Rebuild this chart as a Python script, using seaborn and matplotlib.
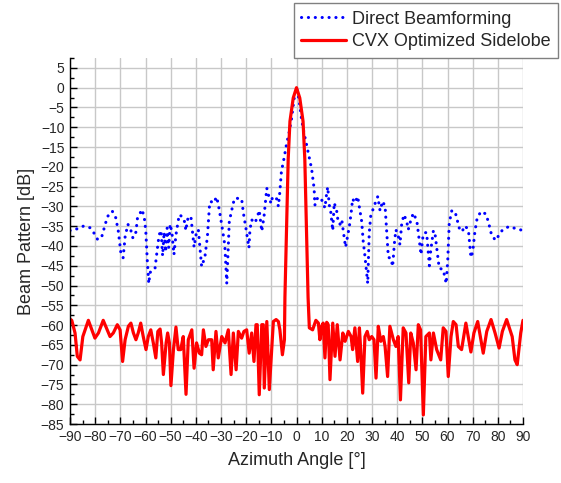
import matplotlib
matplotlib.use("Agg")
import matplotlib.pyplot as plt
import pandas as pd
import seaborn as sns
from matplotlib.ticker import MultipleLocator

# ---------------- data ----------------
blue_angle = [
    -90, -87.3, -84.7, -82, -80.3, -79, -77.4, -75.8, -75, -73.2,
    -71.8, -70.8, -69.8, -68.9, -68.1, -67, -65.8, -65, -63.8, -63.2,
    -61.4, -60.5, -59.9, -59.3, -58.7, -58.2, -57.5, -56.2, -55.5, -54.6,
    -53.8, -53.2, -52.6, -52.0, -51.4, -50.8, -50.2, -49.5, -48.7, -47.9,
    -46.6, -45.2, -44.3, -44.0, -43.0, -41.9, -40.7, -39.7, -39.0, -37.7,
    -36.4, -35.4, -34.6, -34.1, -33.1, -31.7, -30.7, -29.6, -28.5, -27.7,
    -26.7, -25.1, -24.4, -21.8, -21.1, -20.2, -18.9, -18.5, -17.8, -16.5,
    -15.6, -14.8, -13.8, -12.9, -11.8, -11.2, -10.1, -9.5, -7.9, -7.2,
    -6.6, -6.0, -5.0, -4.0, -3.0, -2.0, -1.0, 0, 1.0, 2.0,
    3.0, 4.0, 5.0, 6.0, 7.0, 7.3, 8.0, 9.6, 11.3, 12.0,
    12.4, 13.0, 13.6, 14.4, 15.0, 16.0, 16.6, 17.3, 18.0, 18.6,
    19.5, 21.0, 21.7, 22.3, 23.2, 24.3, 25.2, 25.9, 26.5, 27.2,
    28.3, 28.9, 29.5, 31.2, 32.3, 33.2, 34.2, 35.2, 35.8, 36.5,
    37.5, 38.2, 38.9, 39.5, 40.5, 41.1, 41.8, 42.7, 43.8, 44.4,
    45.1, 46.4, 47.8, 48.4, 49.5, 50.1, 50.7, 51.7, 52.8, 53.3,
    54.4, 55.0, 56.7, 58.3, 59.5, 60.1, 60.7, 61.7, 63.0, 64.3,
    65.0, 66.0, 66.9, 68.3, 69.3, 70.0, 70.9, 71.8, 73.3, 75.2,
    76.2, 77.5, 79.1, 80.5, 81.9, 84.4, 87.1, 90,
]
blue_db = [
    -36.1, -35.7, -35.0, -35.4, -36.9, -38.4, -37.7, -34.1, -32.5, -31.2,
    -32.9, -36.3, -41.7, -43.0, -37.7, -34.5, -36.1, -38.0, -36.5, -33.0,
    -30.8, -32.7, -36.1, -43.5, -49.5, -46.8, -46.0, -45.6, -41.8, -37.2,
    -36.1, -42.5, -36.5, -41.5, -35.5, -40.5, -34.5, -36.6, -42.2, -37.2,
    -32.1, -32.7, -34.2, -36.1, -32.5, -32.9, -40.3, -36.3, -35.9, -45.2,
    -42.8, -37.6, -30.0, -28.7, -29.2, -27.6, -30.8, -35.1, -39.7, -49.5,
    -33.8, -29.1, -27.9, -28.1, -31.7, -35.1, -40.5, -35.9, -33.4, -34.2,
    -32.7, -31.0, -36.3, -32.5, -25.4, -27.0, -29.3, -27.5, -28.1, -30.0,
    -26.2, -21.2, -18.0, -14.4, -11.5, -8.0, -3.0, 0, -3.0, -8.0,
    -11.5, -14.4, -17.5, -20.5, -25.5, -29.7, -28.1, -27.7, -30.4, -26.6,
    -25.1, -29.6, -31.3, -36.1, -29.1, -31.3, -34.2, -34.5, -33.4, -36.3,
    -40.3, -35.1, -31.7, -28.1, -29.1, -27.5, -31.1, -33.8, -38.8, -42.6,
    -49.5, -36.7, -32.4, -29.3, -27.5, -31.1, -28.7, -30.0, -35.9, -42.9,
    -43.1, -45.2, -39.3, -35.9, -37.7, -39.7, -34.4, -32.1, -33.8, -35.9,
    -34.2, -31.7, -33.6, -36.7, -42.2, -38.2, -36.7, -36.6, -45.0, -41.4,
    -36.1, -36.7, -45.6, -46.0, -49.5, -43.5, -34.2, -31.1, -31.3, -34.6,
    -36.3, -36.1, -34.9, -35.9, -42.9, -41.6, -36.3, -32.9, -31.3, -31.9,
    -33.8, -37.2, -38.6, -37.2, -35.9, -35.1, -35.6, -36.1,
]

red_angle = [
    -90, -89.3, -88, -87.1, -86, -84.9, -82.7, -80.1, -78.7, -76.8,
    -74.1, -72.8, -71.2, -70.1, -69.1, -68.1, -66.8, -65.8, -64.8, -63.8,
    -62.9, -61.9, -60.9, -59.8, -58.9, -57.9, -56.9, -55.9, -55.1, -54.2,
    -53.6, -52.9, -51.8, -51.2, -50.5, -49.9, -48.9, -47.9, -47.0, -46.0,
    -45.0, -43.9, -43.0, -41.6, -40.7, -39.7, -38.6, -37.7, -37.0, -36.0,
    -35.0, -33.7, -33.1, -32.0, -31.1, -29.7, -28.4, -27.1, -26.0, -25.1,
    -24.0, -23.1, -21.8, -20.9, -19.8, -18.8, -17.8, -16.9, -16.1, -15.6,
    -14.8, -13.8, -13.2, -12.8, -11.8, -10.8, -9.2, -8.1, -7.2, -6.6,
    -5.6, -4.8, -4.6, -3.3, -2.6, -1.3, 0, 1.3, 2.6, 3.3,
    4.6, 5.1, 6.4, 7.7, 8.7, 9.3, 10.0, 10.6, 11.3, 12.0,
    12.6, 13.3, 14.4, 15.3, 16.2, 17.3, 18.4, 19.3, 20.6, 21.7,
    22.3, 23.2, 24.3, 25.0, 25.5, 26.3, 27.2, 28.1, 28.9, 29.9,
    30.8, 31.6, 32.5, 33.5, 34.5, 35.2, 36.2, 37.1, 38.5, 39.5,
    40.4, 41.3, 42.4, 43.5, 44.6, 45.4, 46.4, 47.5, 48.4, 49.3,
    50.4, 51.4, 52.8, 53.4, 54.4, 55.7, 57.3, 58.3, 59.4, 60.3,
    61.4, 62.3, 63.4, 64.3, 65.6, 67.3, 69.3, 70.5, 72.0, 74.2,
    75.6, 77.3, 78.9, 80.5, 81.8, 83.5, 85.7, 86.8, 87.7, 89.1,
    90,
]
red_db = [
    -58.5, -58.8, -62.0, -67.9, -68.8, -62.9, -58.8, -63.3, -62.0, -58.8,
    -62.9, -62.0, -59.9, -61.2, -69.2, -63.7, -60.3, -59.5, -62.0, -63.7,
    -62.0, -59.5, -62.9, -66.2, -62.9, -61.2, -64.5, -68.3, -61.6, -61.0,
    -64.5, -72.5, -64.5, -62.0, -64.5, -75.3, -66.2, -60.5, -66.2, -66.2,
    -62.9, -77.5, -63.7, -61.2, -70.9, -64.5, -67.1, -67.5, -61.2, -65.4,
    -63.7, -63.7, -71.3, -61.6, -68.3, -62.9, -64.5, -61.2, -72.5, -62.0,
    -71.3, -61.6, -63.3, -61.6, -61.2, -67.1, -62.0, -69.2, -59.9, -59.9,
    -77.6, -59.9, -59.9, -75.9, -59.1, -76.3, -59.1, -58.6, -59.1, -61.2,
    -67.5, -63.7, -53.0, -18.0, -8.5, -2.6, 0, -2.6, -8.5, -18.0,
    -53.0, -60.7, -61.2, -58.8, -59.5, -63.7, -60.3, -59.5, -68.3, -59.3,
    -59.9, -73.8, -59.5, -67.9, -59.9, -68.8, -62.0, -64.1, -61.6, -62.9,
    -66.2, -60.7, -69.2, -60.7, -66.2, -77.2, -62.9, -61.6, -63.7, -62.9,
    -63.7, -73.4, -60.3, -64.1, -62.9, -65.4, -73.0, -60.3, -63.7, -65.4,
    -62.9, -78.9, -60.7, -62.0, -74.6, -62.0, -64.5, -71.3, -59.9, -61.2,
    -82.7, -62.9, -62.0, -68.8, -62.0, -66.2, -68.8, -60.7, -61.6, -73.0,
    -62.9, -59.1, -59.9, -65.4, -66.2, -59.5, -66.8, -62.0, -59.1, -67.1,
    -61.6, -58.6, -62.0, -65.8, -61.6, -58.6, -62.9, -68.8, -70.0, -62.0,
    -58.8,
]

x_ticks = list(range(-90, 91, 10))
y_ticks = list(range(-85, 6, 5))
label_blue = "Direct Beamforming"
label_red = "CVX Optimized Sidelobe"

# ---------------- style ----------------
sns.set_style("ticks")
plt.rcParams["font.family"] = ["Liberation Sans", "DejaVu Sans"]

W, H = 561, 483
fig = plt.figure(figsize=(W / 100, H / 100), dpi=100)
ax = fig.add_axes([70 / W, 1 - 424 / H, 453 / W, 366 / H])

df_blue = pd.DataFrame({"angle": blue_angle, "db": blue_db})
df_red = pd.DataFrame({"angle": red_angle, "db": red_db})

DOTS = (0, (0.05, 2.2))

sns.lineplot(data=df_blue, x="angle", y="db", ax=ax, color="#0000ff",
             linewidth=2.2, estimator=None, sort=False, label=label_blue)
sns.lineplot(data=df_red, x="angle", y="db", ax=ax, color="#ff0000",
             linewidth=2.3, estimator=None, sort=False, label=label_red)

blue_line, red_line = ax.lines[0], ax.lines[1]
blue_line.set_linestyle(DOTS)
blue_line.set_dash_capstyle("round")
red_line.set_solid_joinstyle("round")

ax.set_xlim(-90, 90)
ax.set_ylim(-85, 7.5)
ax.set_xticks(x_ticks)
ax.set_yticks(y_ticks)
ax.xaxis.set_minor_locator(MultipleLocator(5))
ax.yaxis.set_minor_locator(MultipleLocator(2.5))
ax.tick_params(which="both", direction="in", top=False, right=False,
               width=1, color="black", labelsize=10)
ax.tick_params(which="major", length=5, pad=4)
ax.tick_params(which="minor", length=3)

ax.grid(True, which="major", color="#c8c8c8", linewidth=1)
ax.set_axisbelow(True)
for s in ["top", "right"]:
    ax.spines[s].set_visible(False)
for s in ["left", "bottom"]:
    ax.spines[s].set_color("black")
    ax.spines[s].set_linewidth(1)

ax.set_xlabel("Azimuth Angle [°]", fontsize=13, labelpad=6)
ax.set_ylabel("Beam Pattern [dB]", fontsize=13, labelpad=4)

leg = ax.legend(loc="upper right", bbox_to_anchor=(558 / W, 1 - 3 / H),
                bbox_transform=fig.transFigure, frameon=True, fancybox=False,
                edgecolor="#808080", fontsize=13, handlelength=2.5,
                borderpad=0.42, labelspacing=0.32, handletextpad=0.3,
                borderaxespad=0)
leg.get_frame().set_linewidth(1)
leg.get_frame().set_alpha(1)
leg_lines = leg.get_lines()
leg_lines[0].set_linestyle(DOTS)
leg_lines[0].set_dash_capstyle("round")

fig.savefig("out.png", dpi=100)
